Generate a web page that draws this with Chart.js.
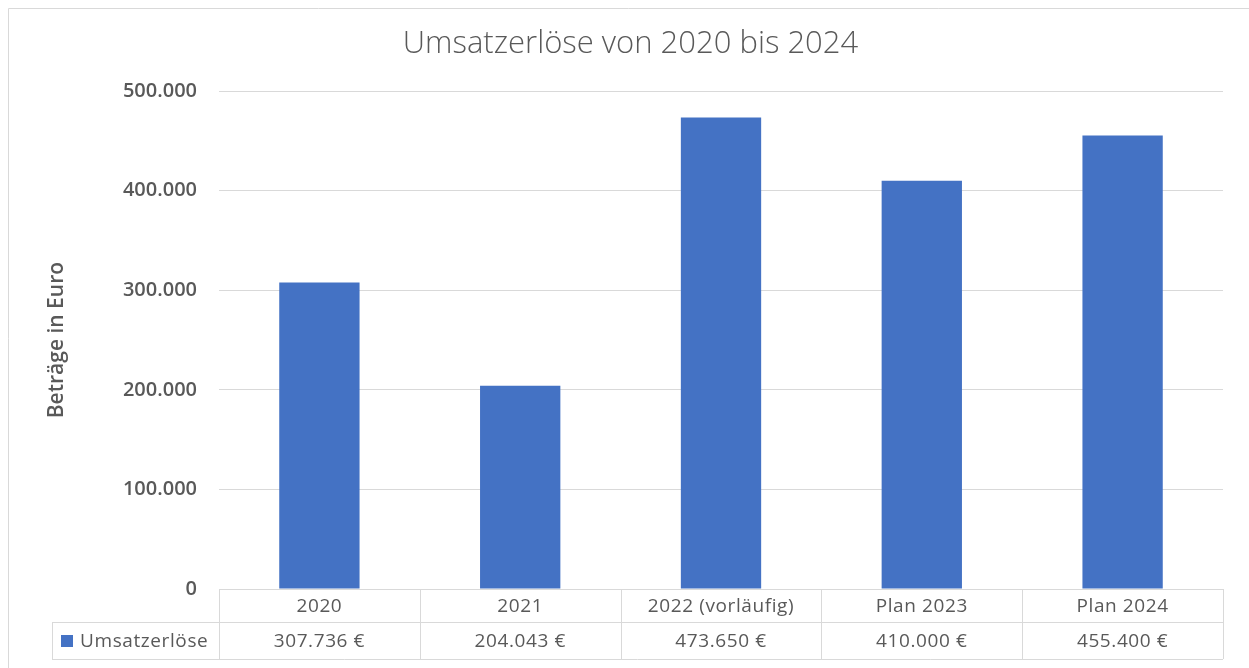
<!DOCTYPE html>
<html>
<head>
<meta charset="utf-8">
<script src="https://cdn.jsdelivr.net/npm/chart.js@4.4.1/dist/chart.umd.min.js"></script>
<style>
  html, body { margin: 0; padding: 0; background: #fff; }
  #wrap { width: 1249px; height: 668px; position: relative; }
</style>
</head>
<body>
<div id="wrap"><canvas id="umsatz_chart"></canvas></div>
<script>
const categories = ['2020', '2021', '2022 (vorläufig)', 'Plan 2023', 'Plan 2024'];
const umsatz = [307736, 204043, 473650, 410000, 455400];
const seriesName = 'Umsatzerlöse';
const yTicks = [0, 100000, 200000, 300000, 400000, 500000];

const textColor = '#595959';
const lineColor = '#d9d9d9';
const barColor = '#4472c4';

function fmt(n) {
    return String(Math.round(n)).replace(/\B(?=(\d{3})+(?!\d))/g, '.');
}

// frame + data table under the plot
const tablePlugin = {
    id: 'dataTable',
    afterDraw(chart) {
        const ctx = chart.ctx;
        const x = chart.scales.x;
        const area = chart.chartArea;
        const step = x.getPixelForValue(1) - x.getPixelForValue(0);
        const top = area.bottom;
        const row1 = top + 33;
        const row2 = top + 70;
        const legendLeft = 52;
        const edges = categories.map((c, i) => x.getPixelForValue(i) - step / 2);
        edges.push(x.getPixelForValue(categories.length - 1) + step / 2);

        ctx.save();
        ctx.strokeStyle = lineColor;
        ctx.lineWidth = 1;
        ctx.beginPath();
        // outer frame
        ctx.moveTo(8.5, 668); ctx.lineTo(8.5, 8.5); ctx.lineTo(1249, 8.5);
        // horizontal table lines
        ctx.moveTo(edges[0], row1 + 0.5); ctx.lineTo(edges[edges.length - 1], row1 + 0.5);
        ctx.moveTo(legendLeft, row1 + 0.5); ctx.lineTo(edges[0], row1 + 0.5);
        ctx.moveTo(legendLeft, row2 + 0.5); ctx.lineTo(edges[edges.length - 1], row2 + 0.5);
        // vertical lines
        edges.forEach(e => {
            const px = Math.round(e) + 0.5;
            ctx.moveTo(px, top); ctx.lineTo(px, row2);
        });
        ctx.moveTo(legendLeft + 0.5, row1); ctx.lineTo(legendLeft + 0.5, row2);
        ctx.stroke();

        ctx.fillStyle = textColor;
        ctx.font = '19px "Open Sans"';
        ctx.letterSpacing = '0.6px';
        ctx.textAlign = 'center';
        ctx.textBaseline = 'middle';
        categories.forEach((c, i) => {
            const cx = x.getPixelForValue(i);
            ctx.fillText(c, cx, (top + row1) / 2 + 1);
            ctx.fillText(fmt(umsatz[i]) + ' €', cx, (row1 + row2) / 2 + 1);
        });

        ctx.fillStyle = barColor;
        ctx.fillRect(61, 635, 12, 12);
        ctx.fillStyle = textColor;
        ctx.textAlign = 'left';
        ctx.fillText(seriesName, 80, (row1 + row2) / 2 + 1);
        ctx.restore();
    }
};

const chart = document.getElementById('umsatz_chart');

new Chart(chart, {
    type: 'bar',
    data: {
        labels: categories,
        datasets: [{
            label: seriesName,
            data: umsatz,
            backgroundColor: barColor,
            categoryPercentage: 1,
            barPercentage: 0.4
        }]
    },
    options: {
        responsive: true,
        maintainAspectRatio: false,
        animation: false,
        layout: {
            padding: {top: 20, left: 38, right: 26, bottom: 79}
        },
        plugins: {
            legend: {display: false},
            tooltip: {enabled: false},
            title: {
                display: true,
                text: 'Umsatzerlöse von 2020 bis 2024',
                color: textColor,
                font: {family: 'Open Sans', size: 31, weight: 300, lineHeight: 1.2},
                padding: {top: 6, bottom: 28}
            }
        },
        scales: {
            x: {
                display: false
            },
            y: {
                min: 0,
                max: 500000,
                afterBuildTicks: (scale) => { scale.ticks = yTicks.map(v => ({value: v})); },
                afterFit: (scale) => { scale.width = 181; },
                border: {display: false},
                grid: {color: lineColor, drawTicks: false},
                ticks: {
                    color: textColor,
                    padding: 22,
                    font: {family: 'Open Sans', size: 20, weight: 600},
                    callback: (v) => fmt(v)
                },
                title: {
                    display: true,
                    text: 'Beträge in Euro',
                    color: textColor,
                    font: {family: 'Open Sans', size: 21, weight: 600},
                    padding: {top: 6}
                }
            }
        }
    },
    plugins: [tablePlugin]
});
</script>
</body>
</html>
